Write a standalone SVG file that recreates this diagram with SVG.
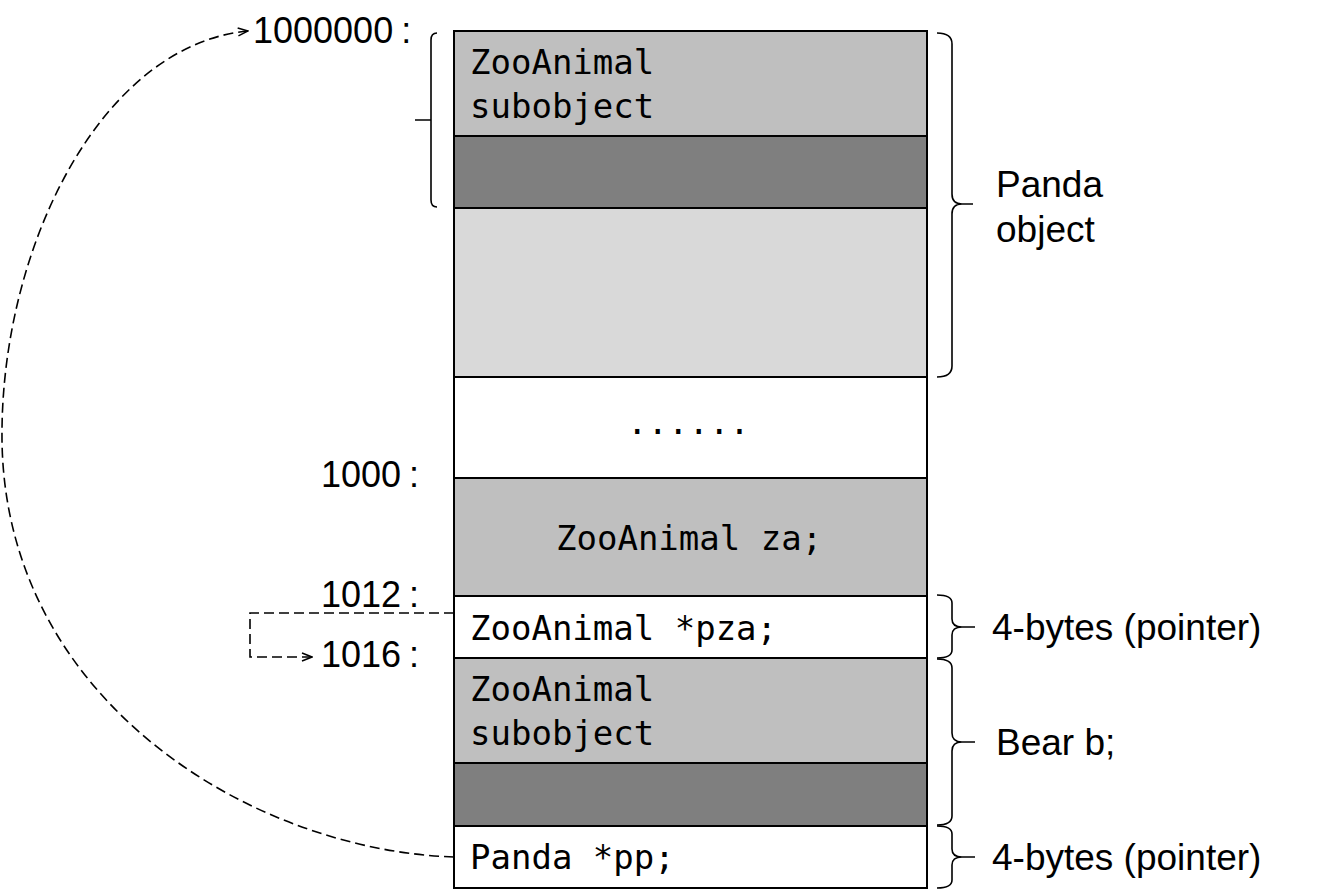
<svg xmlns="http://www.w3.org/2000/svg" width="1336" height="893" viewBox="0 0 1336 893">
<style>
.cell{stroke:#000;stroke-width:2}
.mono{font-family:"DejaVu Sans Mono","Liberation Mono",monospace;font-size:34px;fill:#000}
.lbl{font-family:"Liberation Sans",Arial,sans-serif;font-size:36px;fill:#000}
.rl{font-family:"Liberation Sans",Arial,sans-serif;font-size:37px;fill:#000}
.brace{fill:none;stroke:#000;stroke-width:1.6}
.dash{fill:none;stroke:#000;stroke-width:1.6;stroke-dasharray:10 5}
</style>
<defs>
<marker id="arr" viewBox="0 0 12 10" refX="11" refY="5" markerWidth="12" markerHeight="10" markerUnits="userSpaceOnUse" orient="auto">
<path d="M1,1 L11,5 L1,9" fill="none" stroke="#000" stroke-width="1.5"/>
</marker>
</defs>
<rect width="1336" height="893" fill="#fff"/>

<g id="panda-zooanimal">
<rect class="cell" x="454" y="31" width="473" height="105" fill="#BFBFBF"/>
<text class="mono" x="470" y="74">ZooAnimal</text>
<text class="mono" x="470" y="118">subobject</text>
</g>
<g id="panda-bear-part">
<rect class="cell" x="454" y="136" width="473" height="72" fill="#7F7F7F"/>
</g>
<g id="panda-own-part">
<rect class="cell" x="454" y="208" width="473" height="169" fill="#D9D9D9"/>
</g>
<g id="gap">
<rect class="cell" x="454" y="377" width="473" height="101" fill="#fff"/>
<text class="mono" x="627" y="434">......</text>
</g>
<g id="za">
<rect class="cell" x="454" y="478" width="473" height="118" fill="#BFBFBF"/>
<text class="mono" x="556" y="550">ZooAnimal za;</text>
</g>
<g id="pza">
<rect class="cell" x="454" y="596" width="473" height="62" fill="#fff"/>
<text class="mono" x="470" y="640">ZooAnimal *pza;</text>
</g>
<g id="bear-zooanimal">
<rect class="cell" x="454" y="658" width="473" height="105" fill="#BFBFBF"/>
<text class="mono" x="470" y="701">ZooAnimal</text>
<text class="mono" x="470" y="745">subobject</text>
</g>
<g id="bear-part">
<rect class="cell" x="454" y="763" width="473" height="63" fill="#7F7F7F"/>
</g>
<g id="pp">
<rect class="cell" x="454" y="826" width="473" height="62" fill="#fff"/>
<text class="mono" x="470" y="869">Panda *pp;</text>
</g>

<g id="addresses">
<text class="lbl" x="253" y="43">1000000<tspan dx="8">:</tspan></text>
<text class="lbl" x="321" y="487">1000<tspan dx="8">:</tspan></text>
<text class="lbl" x="321" y="607">1012<tspan dx="8">:</tspan></text>
<text class="lbl" x="321" y="667">1016<tspan dx="8">:</tspan></text>
</g>

<g id="braces">
<path class="brace" d="M437,33 Q431,33 431,40 L431,200 Q431,207 437,207 M431,120 L415,120"/>
<path class="brace" d="M937,33 Q952,33 952,44 L952,194 Q952,204 962,204 L973,204 M962,204 Q952,204 952,214 L952,366 Q952,377 937,377"/>
<path class="brace" d="M937,595 Q952,595 952,603 L952,619 Q952,627 962,627 L975,627 M962,627 Q952,627 952,635 L952,650 Q952,658 937,658"/>
<path class="brace" d="M937,659 Q952,659 952,668 L952,733 Q952,742 962,742 L975,742 M962,742 Q952,742 952,751 L952,816 Q952,825 937,825"/>
<path class="brace" d="M937,826 Q952,826 952,834 L952,849 Q952,857 962,857 L975,857 M962,857 Q952,857 952,865 L952,880 Q952,888 937,888"/>
</g>

<g id="side-labels">
<text class="rl" x="996" y="197">Panda</text>
<text class="rl" x="996" y="242">object</text>
<text class="rl" x="992" y="640">4-bytes (pointer)</text>
<text class="rl" x="996" y="755">Bear b;</text>
<text class="rl" x="992" y="870">4-bytes (pointer)</text>
</g>

<g id="connectors">
<path class="dash" d="M454,857 C250,850 5,700 2,440 C0,250 100,45 248,31" marker-end="url(#arr)"/>
<path class="dash" d="M454,613 L250,613 L250,657 L312,657" marker-end="url(#arr)"/>
</g>
</svg>
